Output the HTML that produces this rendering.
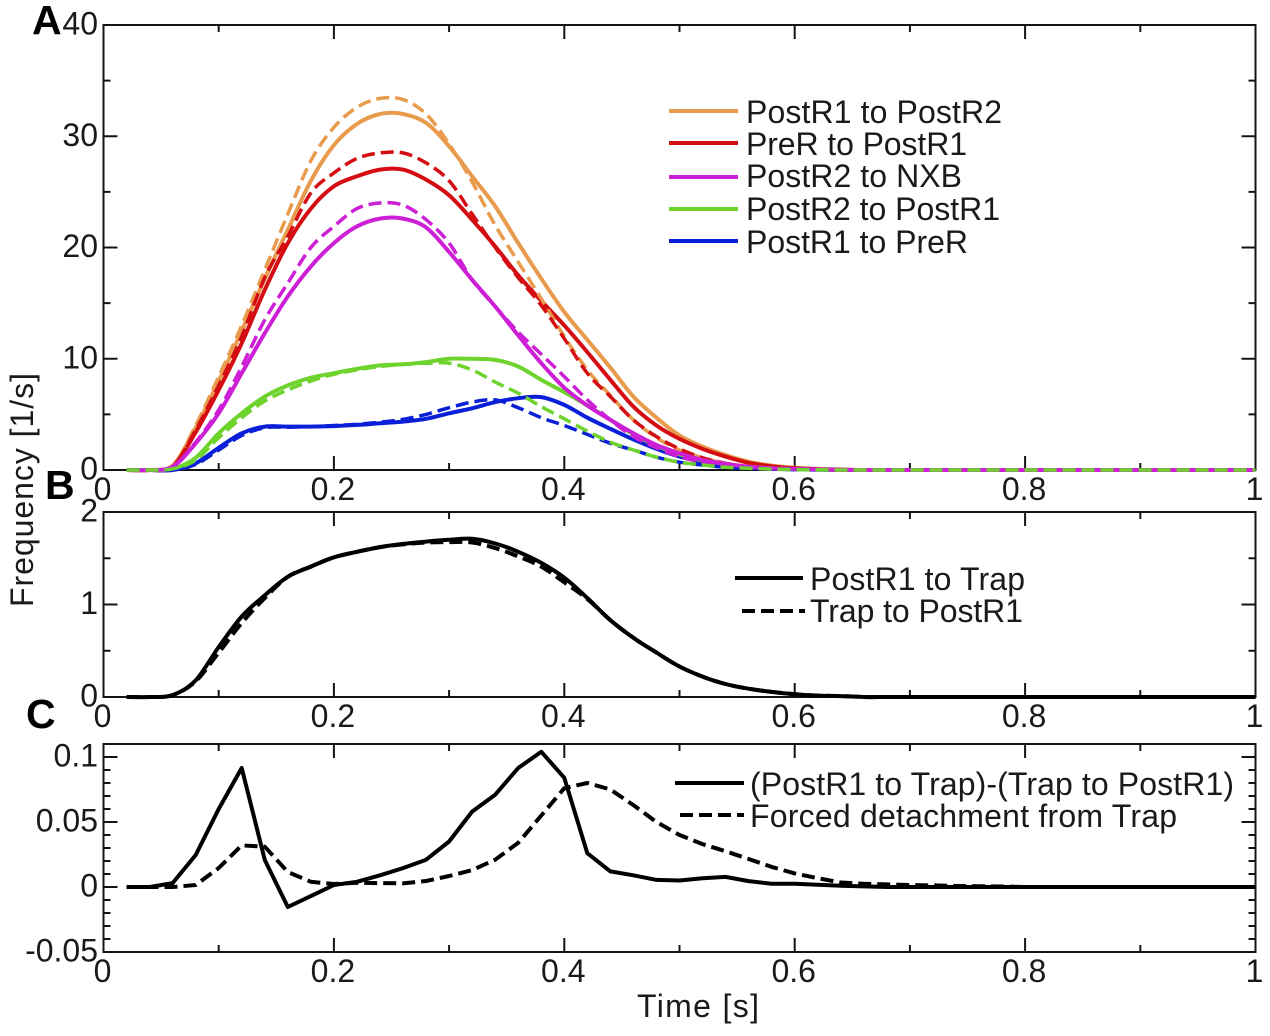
<!DOCTYPE html>
<html lang="en">
<head>
<meta charset="utf-8">
<title>Transition frequency chart</title>
<style>
html,body{margin:0;padding:0;background:#fff;}
body{width:1270px;height:1036px;overflow:hidden;}
svg{display:block;}
text{font-family:"Liberation Sans",Arial,sans-serif;fill:#1a1a1a;}
.tick-label{font-size:32px;}
.legend-text{font-size:32px;}
.panel-letter{font-size:41px;font-weight:bold;fill:#000;}
.axis-title{font-size:32px;}
</style>
</head>
<body>
<svg id="chart" width="1270" height="1036" viewBox="0 0 1270 1036" xmlns="http://www.w3.org/2000/svg">
  <text class="panel-letter" x="32" y="34">A</text>
  <text class="panel-letter" x="45" y="499">B</text>
  <text class="panel-letter" x="26" y="728">C</text>
  <text class="axis-title" transform="translate(33 607) rotate(-90)" textLength="234" lengthAdjust="spacing">Frequency [1/s]</text>
  <text class="axis-title" x="637" y="1017" textLength="122" lengthAdjust="spacing">Time [s]</text>

  <g>
    <line x1="669" x2="738" y1="111" y2="111" stroke="#e89b4c" stroke-width="4"/>
    <text class="legend-text" x="746" y="123" textLength="256" lengthAdjust="spacing">PostR1 to PostR2</text>
    <line x1="669" x2="738" y1="143" y2="143" stroke="#d40d12" stroke-width="4"/>
    <text class="legend-text" x="746" y="155" textLength="221" lengthAdjust="spacing">PreR to PostR1</text>
    <line x1="669" x2="738" y1="177" y2="177" stroke="#cc1fd6" stroke-width="4"/>
    <text class="legend-text" x="746" y="187" textLength="216" lengthAdjust="spacing">PostR2 to NXB</text>
    <line x1="669" x2="738" y1="209" y2="209" stroke="#6fd32e" stroke-width="4"/>
    <text class="legend-text" x="746" y="220" textLength="254" lengthAdjust="spacing">PostR2 to PostR1</text>
    <line x1="669" x2="738" y1="241" y2="241" stroke="#0a1fd8" stroke-width="4"/>
    <text class="legend-text" x="746" y="253" textLength="222" lengthAdjust="spacing">PostR1 to PreR</text>
  </g>
  <g>
    <line x1="735" x2="803" y1="578" y2="578" stroke="#000" stroke-width="4"/>
    <text class="legend-text" x="810" y="590" textLength="215" lengthAdjust="spacing">PostR1 to Trap</text>
    <line x1="742" x2="805" y1="611" y2="611" stroke="#000" stroke-width="4" stroke-dasharray="13 6"/>
    <text class="legend-text" x="810" y="622" textLength="213" lengthAdjust="spacing">Trap to PostR1</text>
  </g>
  <g>
    <line x1="675" x2="744" y1="783" y2="783" stroke="#000" stroke-width="4"/>
    <text class="legend-text" x="750" y="795" textLength="484" lengthAdjust="spacing">(PostR1 to Trap)-(Trap to PostR1)</text>
    <line x1="680" x2="744" y1="815" y2="815" stroke="#000" stroke-width="4" stroke-dasharray="13 6"/>
    <text class="legend-text" x="750" y="827" textLength="427" lengthAdjust="spacing">Forced detachment from Trap</text>
  </g>
</svg>
<script>
// Shared time samples
const times = [
  0.02,0.04,0.06,0.08,0.10,0.12,0.14,0.16,0.18,0.20,
  0.22,0.24,0.26,0.28,0.30,0.32,0.34,0.36,0.38,0.40,
  0.42,0.44,0.46,0.48,0.50,0.52,0.54,0.56,0.58,0.60,
  0.62,0.64,0.66,0.68,0.70,0.72,0.74,0.76,0.78,0.80,
  0.82,0.84,0.86,0.88,0.90,0.92,0.94,0.96,0.98,1.00];

// Panel A series
const orangeSolid = [
  0,0,0.4,3.8,8,12.5,17.2,21.6,26,29.2,
  31.1,32,32,31.2,29.1,26.4,23.7,20.4,17.2,14.2,
  11.7,9.2,6.6,4.7,3.1,2.1,1.35,0.75,0.4,0.2,
  0.1,0.05,0,0,0,0,0,0,0,0,
  0,0,0,0,0,0,0,0,0,0];
const orangeDashed = [
  0,0,0.4,4,8.4,13,18,23,27.8,30.8,
  32.6,33.4,33.3,32,29.3,25.9,22,18.7,15.4,12,
  9,6.7,4.5,2.9,1.8,1.1,0.6,0.3,0.15,0.07,
  0.03,0,0,0,0,0,0,0,0,0,
  0,0,0,0,0,0,0,0,0,0];
const redSolid = [
  0,0,0.3,3.4,7.2,11.4,16.2,20.4,23.5,25.5,
  26.4,27,27,26.1,24.7,22.5,20.1,17.5,15.2,13,
  10.6,8.1,5.7,4,2.8,1.9,1.2,0.65,0.33,0.15,
  0.06,0.02,0,0,0,0,0,0,0,0,
  0,0,0,0,0,0,0,0,0,0];
const redDashed = [
  0,0,0.3,3.6,7.6,12,17.3,21,24.9,26.7,
  28,28.5,28.5,27.6,26,23,20,17.3,14.8,11.8,
  8.7,6.6,4.5,3,1.9,1.1,0.6,0.3,0.15,0.07,
  0.03,0,0,0,0,0,0,0,0,0,
  0,0,0,0,0,0,0,0,0,0];
const magentaSolid = [
  0,0,0.3,2.4,5.1,8.7,12.3,15.6,18.3,20.4,
  21.9,22.6,22.6,21.8,19.6,17.1,14.7,12.1,9.6,7.4,
  5.8,4.5,3.3,2.25,1.5,0.9,0.55,0.3,0.15,0.1,
  0.05,0.02,0,0,0,0,0,0,0,0,
  0,0,0,0,0,0,0,0,0,0];
const magentaDashed = [
  0,0,0.3,2.5,5.4,9.3,13.5,16.8,20,21.9,
  23.5,24,23.8,22.5,20.4,17.1,14.7,12.4,10.4,8.4,
  6.3,4.5,3,2,1.2,0.7,0.35,0.2,0.1,0.05,
  0.02,0,0,0,0,0,0,0,0,0,
  0,0,0,0,0,0,0,0,0,0];
const greenSolid = [
  0,0,0.1,1.1,3.3,5.1,6.6,7.6,8.3,8.7,
  9.1,9.4,9.5,9.7,10,10,9.9,9.3,8.1,7,
  5.8,4.5,3.2,2.2,1.4,0.85,0.5,0.3,0.15,0.08,
  0.04,0.01,0,0,0,0,0,0,0,0,
  0,0,0,0,0,0,0,0,0,0];
const greenDashed = [
  0,0,0.1,0.9,2.9,4.7,6.2,7.2,8,8.6,
  9,9.3,9.5,9.6,9.6,9,7.9,6.9,5.7,4.6,
  3.5,2.5,1.8,1.15,0.7,0.45,0.25,0.15,0.08,0.04,
  0.02,0,0,0,0,0,0,0,0,0,
  0,0,0,0,0,0,0,0,0,0];
const blueSolid = [
  0,0,0,0.6,2,3.3,3.9,3.9,3.9,3.95,
  4.05,4.2,4.35,4.6,5.1,5.55,6.1,6.45,6.55,5.85,
  4.7,3.7,2.75,1.9,1.2,0.75,0.45,0.25,0.12,0.06,
  0.03,0.01,0,0,0,0,0,0,0,0,
  0,0,0,0,0,0,0,0,0,0];
const blueDashed = [
  0,0,0,0.5,1.8,3.1,3.8,3.85,3.9,4,
  4.1,4.3,4.55,5,5.6,6.1,6.3,5.6,4.7,4,
  3.2,2.4,1.8,1.15,0.7,0.45,0.25,0.15,0.08,0.04,
  0.02,0,0,0,0,0,0,0,0,0,
  0,0,0,0,0,0,0,0,0,0];

// Panel B series
const trapOnSolid = [
  0,0,0.02,0.18,0.54,0.87,1.1,1.3,1.41,1.51,
  1.57,1.62,1.655,1.68,1.7,1.71,1.66,1.57,1.45,1.29,
  1.07,0.83,0.64,0.48,0.33,0.22,0.14,0.09,0.055,0.03,
  0.015,0.01,0,0,0,0,0,0,0,0,
  0,0,0,0,0,0,0,0,0,0];
const trapOffDashed = [
  0,0,0.02,0.17,0.48,0.8,1.07,1.3,1.41,1.51,
  1.57,1.62,1.65,1.67,1.675,1.67,1.61,1.52,1.41,1.24,
  1.06,0.83,0.64,0.48,0.33,0.22,0.14,0.09,0.055,0.03,
  0.015,0.01,0,0,0,0,0,0,0,0,
  0,0,0,0,0,0,0,0,0,0];

// Panel C series
const netFluxSolid = [
  0,0,0.003,0.0246,0.06,0.0915,0.0208,-0.0154,-0.007,0.0015,
  0.004,0.009,0.0145,0.021,0.035,0.058,0.071,0.0915,0.104,0.084,
  0.026,0.012,0.009,0.0055,0.005,0.0068,0.0078,0.0045,0.0025,0.0025,
  0.0018,0.001,0.0005,0,0,0,0,0,0,0,
  0,0,0,0,0,0,0,0,0,0];
const forcedDashed = [
  0,0,0,0.0015,0.0146,0.032,0.031,0.0115,0.004,0.0023,
  0.0032,0.003,0.0028,0.0046,0.0085,0.013,0.021,0.034,0.055,0.076,
  0.08,0.075,0.063,0.05,0.04,0.033,0.0275,0.0215,0.0155,0.0105,
  0.0068,0.0035,0.0025,0.002,0.0015,0.0012,0.0008,0.0006,0.0004,0,
  0,0,0,0,0,0,0,0,0,0];

// Tick values and labels
const xMajorTicks = [0,0.2,0.4,0.6,0.8,1];
const xMinorTicks = [0.1,0.3,0.5,0.7,0.9];
const xTickLabels = ["0","0.2","0.4","0.6","0.8","1"];
const aMajorTicks = [0,10,20,30,40];
const aMinorTicks = [5,15,25,35];
const aTickLabels = ["0","10","20","30","40"];
const bMajorTicks = [0,1,2];
const bMinorTicks = [0.5,1.5];
const bTickLabels = ["0","1","2"];
const cMajorTicks = [-0.05,0,0.05,0.1];
const cMinorTicks = [-0.04,-0.03,-0.02,-0.01,0.01,0.02,0.03,0.04,0.06,0.07,0.08,0.09];
const cTickLabels = ["-0.05","0","0.05","0.1"];

const NS = 'http://www.w3.org/2000/svg';
const svg = document.getElementById('chart');
const INK = '#141414';

// Axis functions
const xLeft = 103.5, xRight = 1255.5;
function xScale(t){ return xLeft + (xRight - xLeft) * t; }
function yScaleA(v){ return 470 - (470 - 25) * v / 40; }
function yScaleB(v){ return 697 - (697 - 512) * v / 2; }
function yScaleC(v){ return 887 - 1300 * v; }

function makeLine(x1, y1, x2, y2, width){
  const l = document.createElementNS(NS, 'line');
  l.setAttribute('x1', x1);
  l.setAttribute('y1', y1);
  l.setAttribute('x2', x2);
  l.setAttribute('y2', y2);
  l.setAttribute('stroke', INK);
  l.setAttribute('stroke-width', width);
  return l;
}

function makeLabel(str, x, y, anchor){
  const t = document.createElementNS(NS, 'text');
  t.setAttribute('class', 'tick-label');
  t.setAttribute('x', x);
  t.setAttribute('y', y);
  t.setAttribute('text-anchor', anchor);
  t.textContent = str;
  return t;
}

function drawAxes(group, top, bottom, yFn, yMajor, yMinor, yLabels){
  const frame = document.createElementNS(NS, 'rect');
  frame.setAttribute('x', xLeft);
  frame.setAttribute('y', top);
  frame.setAttribute('width', xRight - xLeft);
  frame.setAttribute('height', bottom - top);
  frame.setAttribute('fill', 'none');
  frame.setAttribute('stroke', INK);
  frame.setAttribute('stroke-width', 2);
  
  
  group.appendChild(frame);

  const addX = (t, len) => {
    const px = xScale(t);
    [makeLine(px, bottom, px, bottom - len, 2), makeLine(px, top, px, top + len, 2)].forEach(l => {
      
      
      group.appendChild(l);
    });
  };
  xMajorTicks.forEach(t => addX(t, 14));
  xMinorTicks.forEach(t => addX(t, 7));

  const addY = (v, len) => {
    const py = yFn(v);
    [makeLine(xLeft, py, xLeft + len, py, 2), makeLine(xRight, py, xRight - len, py, 2)].forEach(l => {
      
      
      group.appendChild(l);
    });
  };
  yMajor.forEach(v => addY(v, 14));
  yMinor.forEach(v => addY(v, 7));

  xMajorTicks.forEach((t, i) => {
    const lab = makeLabel(xTickLabels[i], xScale(t) - 1, bottom + 30, 'middle');
    
    
    group.appendChild(lab);
  });
  yMajor.forEach((v, i) => {
    const lab = makeLabel(yLabels[i], 98, yFn(v) + 9.5, 'end');
    
    
    group.appendChild(lab);
  });
}

// Straight segments when smooth is false; a Catmull-Rom curve through the samples otherwise
function seriesPath(values, yFn, smooth){
  const pts = times.map((t, i) => [xScale(t), yFn(values[i])]);
  let d = 'M' + pts[0][0].toFixed(1) + ' ' + pts[0][1].toFixed(1);
  for (let i = 1; i < pts.length; i++) {
    const p1 = pts[i - 1], p2 = pts[i];
    if (!smooth) {
      d += ' L' + p2[0].toFixed(1) + ' ' + p2[1].toFixed(1);
      continue;
    }
    const p0 = pts[Math.max(i - 2, 0)], p3 = pts[Math.min(i + 1, pts.length - 1)];
    const c1x = p1[0] + (p2[0] - p0[0]) / 6, c1y = p1[1] + (p2[1] - p0[1]) / 6;
    const c2x = p2[0] - (p3[0] - p1[0]) / 6, c2y = p2[1] - (p3[1] - p1[1]) / 6;
    d += ' C' + c1x.toFixed(1) + ' ' + c1y.toFixed(1) + ' ' + c2x.toFixed(1) + ' ' + c2y.toFixed(1) + ' ' + p2[0].toFixed(1) + ' ' + p2[1].toFixed(1);
  }
  return d;
}

function drawSeries(group, values, yFn, color, dashed, width, smooth){
  const p = document.createElementNS(NS, 'path');
  p.setAttribute('d', seriesPath(values, yFn, smooth));
  p.setAttribute('fill', 'none');
  p.setAttribute('stroke', color);
  p.setAttribute('stroke-width', width);
  p.setAttribute('stroke-linejoin', 'round');
  if (dashed) p.setAttribute('stroke-dasharray', '13 6');
  group.appendChild(p);
  return p;
}

function makeGroup(){
  const g = document.createElementNS(NS, 'g');
  svg.appendChild(g);
  return g;
}

// Panel A
const panelA = makeGroup();


drawAxes(panelA, 25, 470, yScaleA, aMajorTicks, aMinorTicks, aTickLabels);
const ORANGE = '#e89b4c', RED = '#d40d12', MAGENTA = '#cc1fd6', GREEN = '#6fd32e', BLUE = '#0a1fd8';
let s;
s = drawSeries(panelA, orangeSolid, yScaleA, ORANGE, false, 4, true);


s = drawSeries(panelA, redSolid, yScaleA, RED, false, 4, true);


s = drawSeries(panelA, blueSolid, yScaleA, BLUE, false, 4, true);


s = drawSeries(panelA, greenSolid, yScaleA, GREEN, false, 4, true);


s = drawSeries(panelA, orangeDashed, yScaleA, ORANGE, true, 3.5, true);


s = drawSeries(panelA, redDashed, yScaleA, RED, true, 3.5, true);


s = drawSeries(panelA, blueDashed, yScaleA, BLUE, true, 3.5, true);


s = drawSeries(panelA, magentaDashed, yScaleA, MAGENTA, true, 3.5, true);


s = drawSeries(panelA, magentaSolid, yScaleA, MAGENTA, false, 4, true);


s = drawSeries(panelA, greenDashed, yScaleA, GREEN, true, 3.5, true);



// Panel B
const panelB = makeGroup();


drawAxes(panelB, 512, 697, yScaleB, bMajorTicks, bMinorTicks, bTickLabels);
s = drawSeries(panelB, trapOnSolid, yScaleB, '#000', false, 4, true);


s = drawSeries(panelB, trapOffDashed, yScaleB, '#000', true, 4, true);



// Panel C
const panelC = makeGroup();


drawAxes(panelC, 744, 952, yScaleC, cMajorTicks, cMinorTicks, cTickLabels);
s = drawSeries(panelC, forcedDashed, yScaleC, '#000', true, 4, false);


s = drawSeries(panelC, netFluxSolid, yScaleC, '#000', false, 4, false);


</script>
</body>
</html>
